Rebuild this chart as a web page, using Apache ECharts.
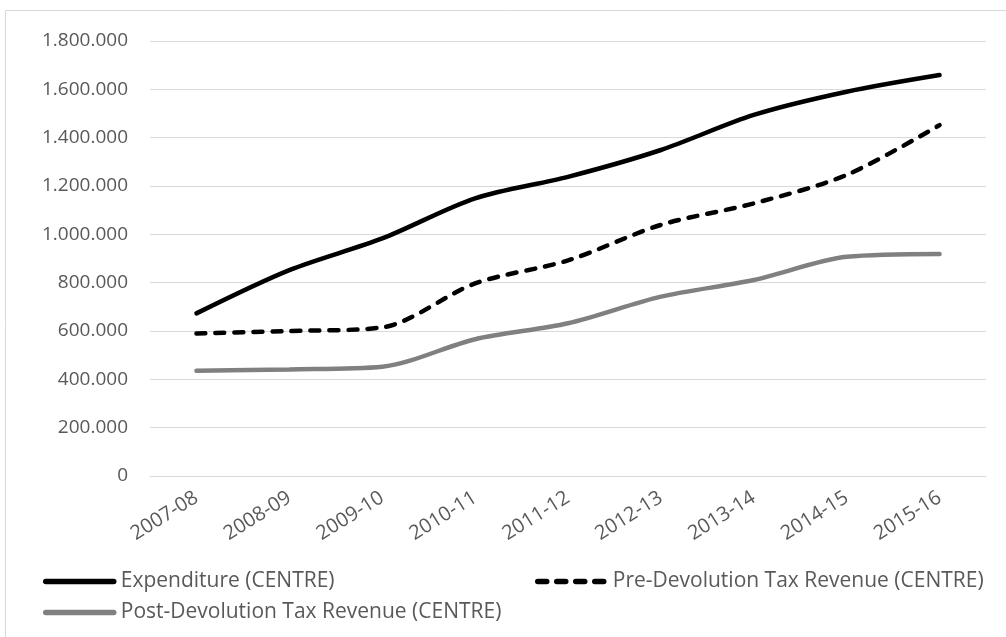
<!DOCTYPE html>
<html>
<head>
<meta charset="utf-8">
<script src="https://cdn.jsdelivr.net/npm/echarts@6/dist/echarts.min.js"></script>
<style>
  html, body { margin: 0; padding: 0; background: #fff; }
  #chart { width: 1006px; height: 637px; }
</style>
</head>
<body>
<div id="chart"></div>
<script>
// 数据
const years = ['2007-08', '2008-09', '2009-10', '2010-11', '2011-12', '2012-13', '2013-14', '2014-15', '2015-16'];
const expenditure = [673000, 852000, 983000, 1149000, 1238000, 1349000, 1494000, 1590000, 1659000];
const preDevolution = [590000, 600000, 615000, 797000, 892000, 1039000, 1128000, 1246000, 1452000];
const postDevolution = [436000, 441000, 452000, 566000, 632000, 742000, 811000, 907000, 919000];
const yTicks = [0, 200000, 400000, 600000, 800000, 1000000, 1200000, 1400000, 1600000, 1800000];

const FONT = 'Open Sans';
const TEXT = '#595959';

const fmt = v => v === 0 ? '0' : String(v).replace(/\B(?=(\d{3})+(?!\d))/g, '.');

const chart = echarts.init(document.getElementById('chart'));

const legendBase = {
  orient: 'horizontal',
  itemWidth: 68,
  itemHeight: 14,
  itemGap: 6,
  itemStyle: { color: 'transparent', borderWidth: 0, opacity: 0 },
  lineStyle: { width: 5.5 },
  textStyle: { color: TEXT, fontFamily: FONT, fontSize: 21, padding: [0, 0, 0, 2] }
};

chart.setOption({
  animation: false,
  graphic: [
    {
      type: 'rect',
      shape: { x: 5.5, y: 10.5, width: 1010, height: 640 },
      style: { fill: 'none', stroke: '#d9d9d9', lineWidth: 1 },
      silent: true
    }
  ],
  grid: { left: 150, right: 20, top: 41, bottom: 161, containLabel: false },
  legend: [
    Object.assign({}, legendBase, { data: ['Expenditure (CENTRE)'], left: 38, top: 566 }),
    Object.assign({}, legendBase, { data: ['Pre-Devolution Tax Revenue (CENTRE)'], left: 530, top: 566 }),
    Object.assign({}, legendBase, { data: ['Post-Devolution Tax Revenue (CENTRE)'], left: 38, top: 597 })
  ],
  xAxis: {
    type: 'category',
    data: years,
    boundaryGap: true,
    axisLine: { lineStyle: { color: '#d9d9d9', width: 1 } },
    axisTick: { show: false },
    axisLabel: {
      rotate: 32,
      interval: 0,
      margin: 20,
      color: TEXT,
      fontFamily: FONT,
      fontSize: 20
    }
  },
  yAxis: {
    type: 'value',
    min: yTicks[0],
    max: yTicks[yTicks.length - 1],
    interval: yTicks[1] - yTicks[0],
    axisLine: { show: false },
    axisTick: { show: false },
    splitLine: { lineStyle: { color: '#d9d9d9', width: 1 } },
    axisLabel: {
      margin: 22,
      color: TEXT,
      fontFamily: FONT,
      fontSize: 19,
      formatter: fmt
    }
  },
  series: [
    {
      name: 'Expenditure (CENTRE)',
      type: 'line',
      data: expenditure,
      smooth: 0.3,
      symbol: 'none',
      lineStyle: { color: '#000000', width: 4.5, cap: 'round' },
      itemStyle: { color: '#000000' }
    },
    {
      name: 'Pre-Devolution Tax Revenue (CENTRE)',
      type: 'line',
      data: preDevolution,
      smooth: 0.3,
      symbol: 'none',
      lineStyle: { color: '#000000', width: 4.5, type: [9, 10], cap: 'round' },
      itemStyle: { color: '#000000' }
    },
    {
      name: 'Post-Devolution Tax Revenue (CENTRE)',
      type: 'line',
      data: postDevolution,
      smooth: 0.3,
      symbol: 'none',
      lineStyle: { color: '#808080', width: 4.5, cap: 'round' },
      itemStyle: { color: '#808080' }
    }
  ]
});
</script>
</body>
</html>
